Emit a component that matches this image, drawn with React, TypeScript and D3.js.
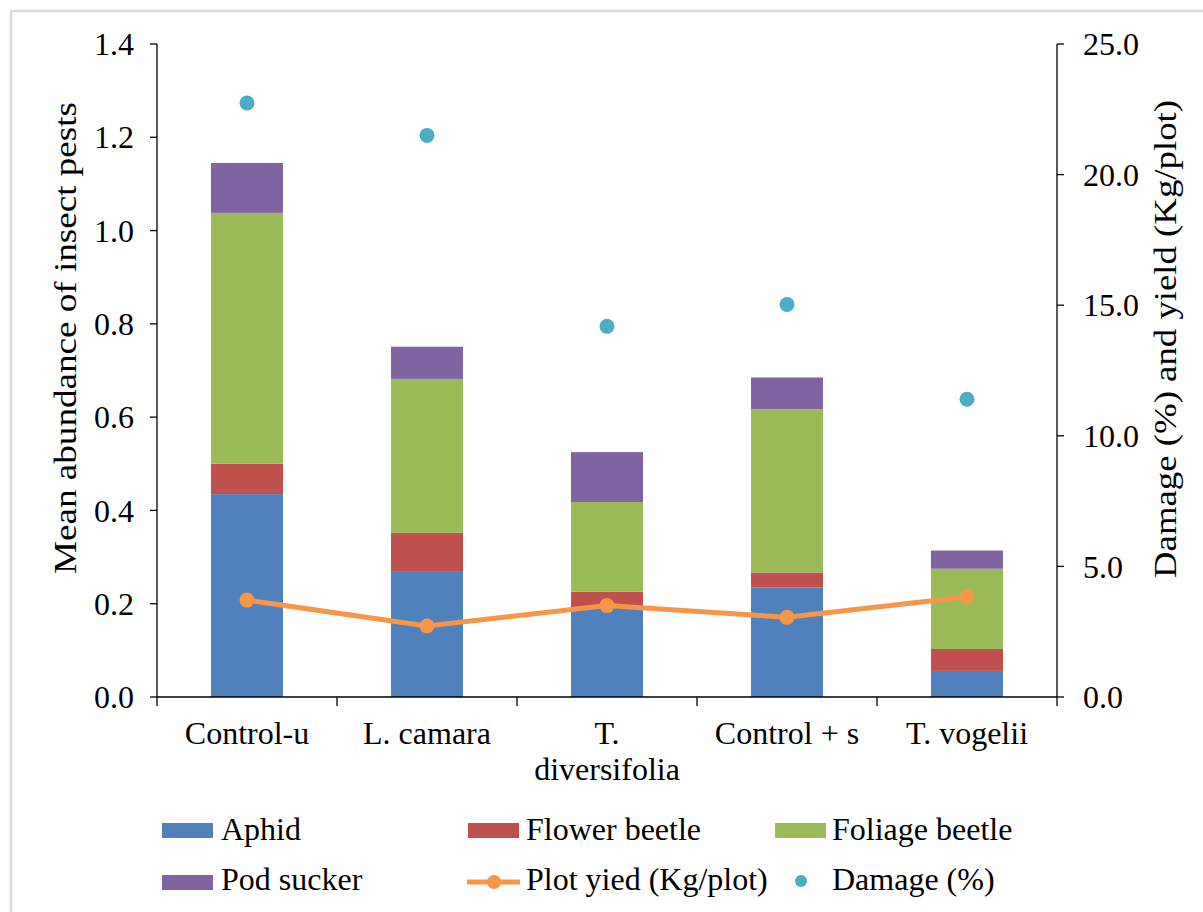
import React from "react";
import * as d3 from "d3";

const categories = ["Control-u", "L. camara", "T. diversifolia", "Control + s", "T. vogelii"];
const categoryLines = [["Control-u"], ["L. camara"], ["T.", "diversifolia"], ["Control + s"], ["T. vogelii"]];
const aphid = [0.435, 0.27, 0.193, 0.235, 0.056];
const flowerBeetle = [0.065, 0.082, 0.033, 0.032, 0.047];
const foliageBeetle = [0.538, 0.33, 0.192, 0.35, 0.172];
const podSucker = [0.107, 0.069, 0.107, 0.068, 0.039];
const plotYield = [3.71, 2.72, 3.5, 3.05, 3.84];
const damage = [22.74, 21.5, 14.19, 15.03, 11.4];
const leftTicks = [0, 0.2, 0.4, 0.6, 0.8, 1.0, 1.2, 1.4];
const rightTicks = [0, 5, 10, 15, 20, 25];

const seriesNames = ["Aphid", "Flower beetle", "Foliage beetle", "Pod sucker"];
const seriesColors = ["#4f81bd", "#c0504d", "#9bbb59", "#8064a2"];
const yieldColor = "#f79646";
const damageColor = "#4bacc6";

const FONT = "Liberation Serif";

export default function App() {
  const left = 157, right = 1057, top = 44, bottom = 697;
  const x = d3.scaleBand<string>().domain(categories).range([left, right]).paddingInner(0.6).paddingOuter(0.3);
  const xb = d3.scaleBand<string>().domain(categories).range([left, right]);
  const yL = d3.scaleLinear().domain([0, 1.4]).range([bottom, top]);
  const yR = d3.scaleLinear().domain([0, 25]).range([bottom, top]);

  const table = categories.map((c, i) => ({
    cat: c,
    "Aphid": aphid[i],
    "Flower beetle": flowerBeetle[i],
    "Foliage beetle": foliageBeetle[i],
    "Pod sucker": podSucker[i],
  }));
  const stacked = d3.stack<any>().keys(seriesNames)(table);

  const cx = (i: number) => (xb(categories[i]) as number) + xb.bandwidth() / 2;
  const linePath = d3.line<number>().x((_, i) => cx(i)).y((d) => yR(d))(plotYield) as string;

  const fs = 32;
  const ts = { fontFamily: FONT };

  return (
    <svg width={1203} height={912} style={{ position: "absolute", left: 0, top: 0, fontFamily: FONT }}>
      <rect x={0} y={0} width={1203} height={912} fill="#ffffff" />
      <rect x={11} y={11} width={1220} height={940} fill="none" stroke="#d9d9d9" strokeWidth={2.5} />

      {/* bars */}
      {stacked.map((s, si) => (
        <g key={si} fill={seriesColors[si]}>
          {s.map((d, i) => (
            <rect key={i} x={x(categories[i])} width={x.bandwidth()} y={yL(d[1])} height={yL(d[0]) - yL(d[1])} />
          ))}
        </g>
      ))}

      {/* left axis */}
      <line x1={left} x2={left} y1={top} y2={bottom} stroke="#000" strokeWidth={1.3} />
      {leftTicks.map((t) => (
        <g key={t}>
          <line x1={left - 7} x2={left} y1={yL(t)} y2={yL(t)} stroke="#000" strokeWidth={1.3} />
          <text style={ts} x={134} y={yL(t)} dy="0.35em" textAnchor="end" fontSize={fs}>{t.toFixed(1)}</text>
        </g>
      ))}
      {/* right axis */}
      <line x1={right} x2={right} y1={top} y2={bottom} stroke="#000" strokeWidth={1.3} />
      {rightTicks.map((t) => (
        <g key={t}>
          <line x1={right} x2={right + 7} y1={yR(t)} y2={yR(t)} stroke="#000" strokeWidth={1.3} />
          <text style={ts} x={1083} y={yR(t)} dy="0.35em" textAnchor="start" fontSize={fs}>{t.toFixed(1)}</text>
        </g>
      ))}
      {/* x axis */}
      <line x1={left} x2={right} y1={bottom} y2={bottom} stroke="#000" strokeWidth={1.3} />
      {categories.map((c, i) => (
        <line key={"t" + i} x1={xb(c) as number} x2={xb(c) as number} y1={bottom} y2={bottom + 9} stroke="#000" strokeWidth={1.3} />
      ))}
      <line x1={right} x2={right} y1={bottom} y2={bottom + 9} stroke="#000" strokeWidth={1.3} />
      {categoryLines.map((lines, i) => (
        <text style={ts} key={"c" + i} x={cx(i)} y={744} textAnchor="middle" fontSize={fs}>
          {lines.map((l, j) => (
            <tspan key={j} x={cx(i)} dy={j === 0 ? 0 : 36}>{l}</tspan>
          ))}
        </text>
      ))}

      {/* axis titles */}
      <text style={ts} transform={`translate(76,338) rotate(-90)`} textAnchor="middle" fontSize={31} textLength={472} lengthAdjust="spacingAndGlyphs">
        Mean abundance of insect pests
      </text>
      <text style={ts} transform={`translate(1176,339) rotate(-90)`} textAnchor="middle" fontSize={31} textLength={478} lengthAdjust="spacingAndGlyphs">
        Damage (%) and yield (Kg/plot)
      </text>

      {/* yield line */}
      <path d={linePath} fill="none" stroke={yieldColor} strokeWidth={5} strokeLinejoin="round" />
      {plotYield.map((v, i) => (
        <circle key={"y" + i} cx={cx(i)} cy={yR(v)} r={7.5} fill={yieldColor} />
      ))}
      {/* damage points */}
      {damage.map((v, i) => (
        <circle key={"d" + i} cx={cx(i)} cy={yR(v)} r={7.5} fill={damageColor} />
      ))}

      {/* legend */}
      <g fontSize={fs} style={ts}>
        <rect x={162} y={823} width={51} height={15} fill={seriesColors[0]} />
        <text style={ts} x={221} y={840}>{seriesNames[0]}</text>
        <rect x={468} y={823} width={51} height={15} fill={seriesColors[1]} />
        <text style={ts} x={526} y={840}>{seriesNames[1]}</text>
        <rect x={775} y={823} width={51} height={15} fill={seriesColors[2]} />
        <text style={ts} x={832} y={840}>{seriesNames[2]}</text>
        <rect x={162} y={875} width={51} height={15} fill={seriesColors[3]} />
        <text style={ts} x={221} y={890}>{seriesNames[3]}</text>
        <line x1={467} x2={520} y1={882} y2={882} stroke={yieldColor} strokeWidth={5} />
        <circle cx={494} cy={882} r={7} fill={yieldColor} />
        <text style={ts} x={526} y={890}>Plot yied (Kg/plot)</text>
        <circle cx={801} cy={881} r={6} fill={damageColor} />
        <text style={ts} x={832} y={890}>Damage (%)</text>
      </g>
    </svg>
  );
}
